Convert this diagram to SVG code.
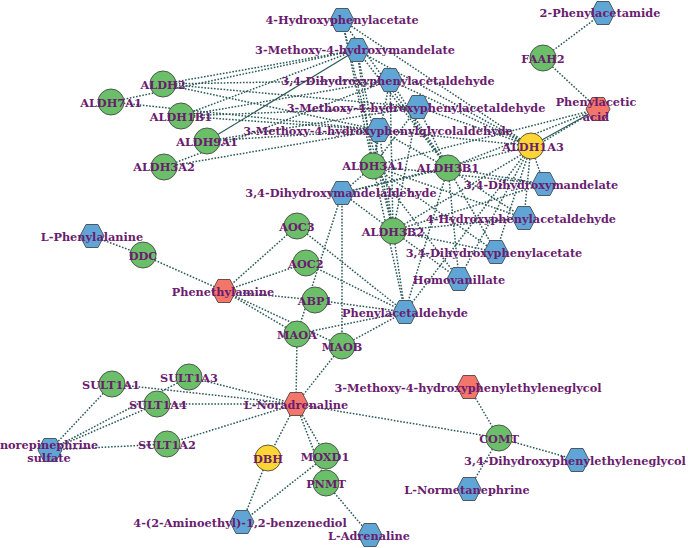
<svg xmlns="http://www.w3.org/2000/svg" xmlns:xlink="http://www.w3.org/1999/xlink" width="688" height="548" viewBox="0 0 688 548">
<style>
.e line{stroke:#2a5a56;stroke-width:1.5;stroke-dasharray:1.6 1.6;fill:none}
.e line.s{stroke-dasharray:none;stroke-width:1.1}
.g{fill:#6bbf69;stroke:#4d5a4d;stroke-width:1}
.b{fill:#5fa6d6;stroke:#4d5a64;stroke-width:1}
.r{fill:#f2766a;stroke:#6a4d4d;stroke-width:1}
.y{fill:#fdd534;stroke:#5f5a3a;stroke-width:1}
text{font-family:"DejaVu Serif","Liberation Serif",serif;font-weight:bold;font-size:11.3px;fill:#6b1c6f;text-anchor:middle}
</style>
<defs>
<polygon id="hex" points="-12,0 -6,-11.5 6,-11.5 12,0 6,11.5 -6,11.5"/>
</defs>
<rect width="688" height="548" fill="#ffffff"/>
<g id="connectors" class="e">
<line x1="373" y1="166" x2="342" y2="20"/><line x1="373" y1="166" x2="357" y2="50"/><line x1="373" y1="166" x2="390" y2="80"/><line x1="373" y1="166" x2="418" y2="107"/><line x1="373" y1="166" x2="379" y2="130"/><line x1="373" y1="166" x2="342" y2="193"/><line x1="373" y1="166" x2="544" y2="184"/><line x1="373" y1="166" x2="524" y2="218"/><line x1="373" y1="166" x2="496" y2="252"/><line x1="373" y1="166" x2="459" y2="279"/><line x1="373" y1="166" x2="405" y2="312"/><line x1="373" y1="166" x2="598" y2="109"/>
<line x1="448" y1="168" x2="342" y2="20"/><line x1="448" y1="168" x2="357" y2="50"/><line x1="448" y1="168" x2="390" y2="80"/><line x1="448" y1="168" x2="418" y2="107"/><line x1="448" y1="168" x2="379" y2="130"/><line x1="448" y1="168" x2="342" y2="193"/><line x1="448" y1="168" x2="544" y2="184"/><line x1="448" y1="168" x2="524" y2="218"/><line x1="448" y1="168" x2="496" y2="252"/><line x1="448" y1="168" x2="459" y2="279"/><line x1="448" y1="168" x2="405" y2="312"/><line x1="448" y1="168" x2="598" y2="109"/>
<line x1="393" y1="231" x2="342" y2="20"/><line x1="393" y1="231" x2="357" y2="50"/><line x1="393" y1="231" x2="390" y2="80"/><line x1="393" y1="231" x2="418" y2="107"/><line x1="393" y1="231" x2="379" y2="130"/><line x1="393" y1="231" x2="342" y2="193"/><line x1="393" y1="231" x2="544" y2="184"/><line x1="393" y1="231" x2="524" y2="218"/><line x1="393" y1="231" x2="496" y2="252"/><line x1="393" y1="231" x2="459" y2="279"/><line x1="393" y1="231" x2="405" y2="312"/><line x1="393" y1="231" x2="598" y2="109"/>
<line x1="531" y1="146" x2="342" y2="20"/><line x1="531" y1="146" x2="357" y2="50"/><line x1="531" y1="146" x2="390" y2="80"/><line x1="531" y1="146" x2="418" y2="107"/><line x1="531" y1="146" x2="379" y2="130"/><line x1="531" y1="146" x2="342" y2="193"/><line x1="531" y1="146" x2="544" y2="184"/><line x1="531" y1="146" x2="524" y2="218"/><line x1="531" y1="146" x2="496" y2="252"/><line x1="531" y1="146" x2="459" y2="279"/><line x1="531" y1="146" x2="405" y2="312"/><line class="s" x1="531" y1="146" x2="598" y2="109"/>
<line x1="163" y1="84" x2="357" y2="50"/><line x1="163" y1="84" x2="390" y2="80"/><line x1="163" y1="84" x2="418" y2="107"/><line x1="163" y1="84" x2="379" y2="130"/>
<line x1="111" y1="102" x2="357" y2="50"/><line x1="111" y1="102" x2="379" y2="130"/>
<line x1="181" y1="116" x2="357" y2="50"/><line x1="181" y1="116" x2="390" y2="80"/><line x1="181" y1="116" x2="418" y2="107"/><line x1="181" y1="116" x2="379" y2="130"/>
<line class="s" x1="207" y1="141" x2="357" y2="50"/><line x1="207" y1="141" x2="418" y2="107"/><line x1="207" y1="141" x2="379" y2="130"/>
<line x1="164" y1="167" x2="390" y2="80"/><line x1="164" y1="167" x2="379" y2="130"/>
<line x1="603" y1="13" x2="543" y2="58"/><line x1="543" y1="58" x2="598" y2="109"/>
<line x1="92" y1="236" x2="143" y2="255"/><line x1="143" y1="255" x2="224" y2="291"/>
<line x1="224" y1="291" x2="297" y2="226"/><line x1="224" y1="291" x2="306" y2="263"/><line x1="224" y1="291" x2="315" y2="300"/><line x1="224" y1="291" x2="297" y2="334"/><line x1="224" y1="291" x2="342" y2="346"/>
<line x1="297" y1="226" x2="405" y2="312"/><line x1="306" y1="263" x2="405" y2="312"/><line x1="315" y1="300" x2="405" y2="312"/><line x1="297" y1="334" x2="405" y2="312"/><line x1="342" y1="346" x2="405" y2="312"/>
<line x1="342" y1="193" x2="297" y2="334"/><line x1="342" y1="193" x2="342" y2="346"/>
<line x1="297" y1="334" x2="296" y2="404"/><line x1="342" y1="346" x2="296" y2="404"/>
<line x1="296" y1="404" x2="112" y2="384"/><line x1="296" y1="404" x2="189" y2="377"/><line x1="296" y1="404" x2="157" y2="404"/><line x1="296" y1="404" x2="167" y2="444"/>
<line x1="112" y1="384" x2="50" y2="450"/><line x1="189" y1="377" x2="50" y2="450"/><line x1="157" y1="404" x2="50" y2="450"/><line x1="167" y1="444" x2="50" y2="450"/>
<line x1="296" y1="404" x2="268" y2="458"/><line x1="296" y1="404" x2="326" y2="456"/><line x1="296" y1="404" x2="326" y2="483"/>
<line x1="268" y1="458" x2="242" y2="522"/><line x1="326" y1="456" x2="242" y2="522"/><line x1="326" y1="483" x2="370" y2="535"/>
<line x1="296" y1="404" x2="499" y2="438"/><line x1="499" y1="438" x2="469" y2="387"/><line x1="499" y1="438" x2="577" y2="460"/><line x1="499" y1="438" x2="469" y2="489"/>
</g>
<g id="n-HPA"><use xlink:href="#hex" class="b" x="342" y="20"/><text x="342" y="24">4-Hydroxyphenylacetate</text></g>
<g id="n-MHM"><use xlink:href="#hex" class="b" x="357" y="50"/><text x="355" y="54">3-Methoxy-4-hydroxymandelate</text></g>
<g id="n-DHPAld"><use xlink:href="#hex" class="b" x="390" y="80"/><text x="388" y="85">3,4-Dihydroxyphenylacetaldehyde</text></g>
<g id="n-MHPAld"><use xlink:href="#hex" class="b" x="418" y="107"/><text x="416" y="112">3-Methoxy-4-hydroxyphenylacetaldehyde</text></g>
<g id="n-MHPGAld"><use xlink:href="#hex" class="b" x="379" y="130"/><text x="378" y="135">3-Methoxy-4-hydroxyphenylglycolaldehyde</text></g>
<g id="n-DHMAld"><use xlink:href="#hex" class="b" x="342" y="193"/><text x="341" y="197">3,4-Dihydroxymandelaldehyde</text></g>
<g id="n-DHM"><use xlink:href="#hex" class="b" x="544" y="184"/><text x="541" y="189">3,4-Dihydroxymandelate</text></g>
<g id="n-HPAld"><use xlink:href="#hex" class="b" x="524" y="218"/><text x="521" y="223">4-Hydroxyphenylacetaldehyde</text></g>
<g id="n-DHPA"><use xlink:href="#hex" class="b" x="496" y="252"/><text x="494" y="257">3,4-Dihydroxyphenylacetate</text></g>
<g id="n-HVA"><use xlink:href="#hex" class="b" x="459" y="279"/><text x="459" y="284">Homovanillate</text></g>
<g id="n-PAld"><use xlink:href="#hex" class="b" x="405" y="312"/><text x="405" y="317">Phenylacetaldehyde</text></g>
<g id="n-PAA"><use xlink:href="#hex" class="r" x="598" y="109"/><text x="596" y="106">Phenylacetic</text><text x="596" y="121">acid</text></g>
<g id="n-PAM"><use xlink:href="#hex" class="b" x="603" y="13"/><text x="600" y="17">2-Phenylacetamide</text></g>
<g id="n-FAAH2"><circle class="g" cx="543" cy="58" r="13"/><text x="543" y="63">FAAH2</text></g>
<g id="n-ALDH2"><circle class="g" cx="163" cy="84" r="13"/><text x="163" y="89">ALDH2</text></g>
<g id="n-ALDH7A1"><circle class="g" cx="111" cy="102" r="13"/><text x="111" y="107">ALDH7A1</text></g>
<g id="n-ALDH1B1"><circle class="g" cx="181" cy="116" r="13"/><text x="181" y="121">ALDH1B1</text></g>
<g id="n-ALDH9A1"><circle class="g" cx="207" cy="141" r="13"/><text x="207" y="146">ALDH9A1</text></g>
<g id="n-ALDH3A2"><circle class="g" cx="164" cy="167" r="13"/><text x="164" y="171">ALDH3A2</text></g>
<g id="n-ALDH3A1"><circle class="g" cx="373" cy="166" r="13"/><text x="373" y="170">ALDH3A1</text></g>
<g id="n-ALDH3B1"><circle class="g" cx="448" cy="168" r="13"/><text x="448" y="172">ALDH3B1</text></g>
<g id="n-ALDH3B2"><circle class="g" cx="393" cy="231" r="13"/><text x="393" y="236">ALDH3B2</text></g>
<g id="n-ALDH1A3"><circle class="y" cx="531" cy="146" r="13"/><text x="533" y="151">ALDH1A3</text></g>
<g id="n-LPhe"><use xlink:href="#hex" class="b" x="92" y="236"/><text x="92" y="241">L-Phenylalanine</text></g>
<g id="n-DDC"><circle class="g" cx="143" cy="255" r="13"/><text x="143" y="260">DDC</text></g>
<g id="n-PEA"><use xlink:href="#hex" class="r" x="224" y="291"/><text x="223" y="296">Phenethylamine</text></g>
<g id="n-AOC3"><circle class="g" cx="297" cy="226" r="13"/><text x="297" y="231">AOC3</text></g>
<g id="n-AOC2"><circle class="g" cx="306" cy="263" r="13"/><text x="306" y="268">AOC2</text></g>
<g id="n-ABP1"><circle class="g" cx="315" cy="300" r="13"/><text x="315" y="305">ABP1</text></g>
<g id="n-MAOA"><circle class="g" cx="297" cy="334" r="13"/><text x="297" y="339">MAOA</text></g>
<g id="n-MAOB"><circle class="g" cx="342" cy="346" r="13"/><text x="342" y="351">MAOB</text></g>
<g id="n-NA"><use xlink:href="#hex" class="r" x="296" y="404"/><text x="296" y="409">L-Noradrenaline</text></g>
<g id="n-SULT1A1"><circle class="g" cx="112" cy="384" r="13"/><text x="111" y="389">SULT1A1</text></g>
<g id="n-SULT1A3"><circle class="g" cx="189" cy="377" r="13"/><text x="189" y="382">SULT1A3</text></g>
<g id="n-SULT1A4"><circle class="g" cx="157" cy="404" r="13"/><text x="158" y="409">SULT1A4</text></g>
<g id="n-SULT1A2"><circle class="g" cx="167" cy="444" r="13"/><text x="167" y="449">SULT1A2</text></g>
<g id="n-NES"><use xlink:href="#hex" class="b" x="50" y="450"/><text x="49" y="449">norepinephrine</text><text x="49" y="462">sulfate</text></g>
<g id="n-DBH"><circle class="y" cx="268" cy="458" r="13"/><text x="268" y="463">DBH</text></g>
<g id="n-MOXD1"><circle class="g" cx="326" cy="456" r="13"/><text x="325" y="461">MOXD1</text></g>
<g id="n-PNMT"><circle class="g" cx="326" cy="483" r="13"/><text x="326" y="488">PNMT</text></g>
<g id="n-AEB"><use xlink:href="#hex" class="b" x="242" y="522"/><text x="240" y="527">4-(2-Aminoethyl)-1,2-benzenediol</text></g>
<g id="n-LAdr"><use xlink:href="#hex" class="b" x="370" y="535"/><text x="369" y="540">L-Adrenaline</text></g>
<g id="n-MHPG"><use xlink:href="#hex" class="r" x="469" y="387"/><text x="468" y="392">3-Methoxy-4-hydroxyphenylethyleneglycol</text></g>
<g id="n-COMT"><circle class="g" cx="499" cy="438" r="13"/><text x="499" y="443">COMT</text></g>
<g id="n-DHPG"><use xlink:href="#hex" class="b" x="577" y="460"/><text x="575" y="465">3,4-Dihydroxyphenylethyleneglycol</text></g>
<g id="n-LNM"><use xlink:href="#hex" class="b" x="469" y="489"/><text x="467" y="494">L-Normetanephrine</text></g>
</svg>
